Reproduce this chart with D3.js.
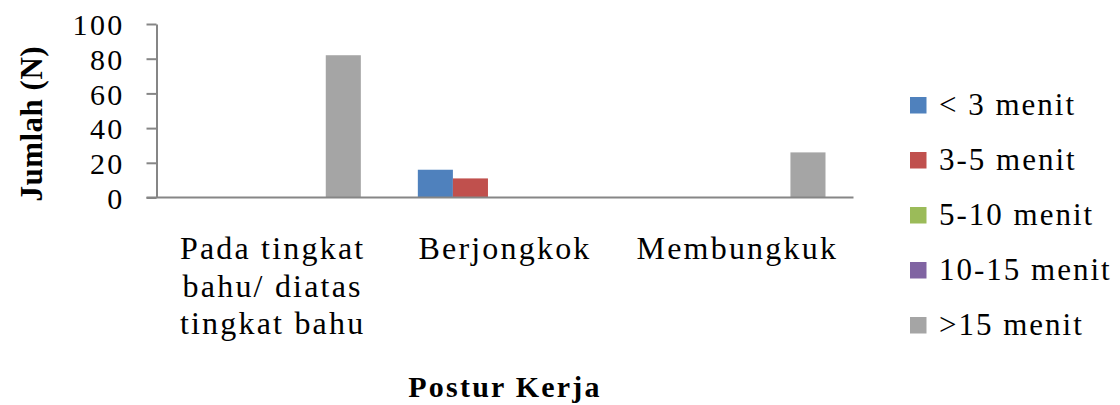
<!DOCTYPE html>
<html>
<head>
<meta charset="utf-8">
<script src="https://cdn.jsdelivr.net/npm/d3@7"></script>
<style>
    body { margin: 0; background: #fff; }
    svg text { font-family: "Liberation Serif", "Times New Roman", Times, serif; fill: #000; }
</style>
</head>
<body>
<script>
(function(){
    // chart data
    var categories = ["Pada tingkat bahu/ diatas tingkat bahu", "Berjongkok", "Membungkuk"];
    var categoryLines = [["Pada tingkat", "bahu/ diatas", "tingkat bahu"], ["Berjongkok"], ["Membungkuk"]];
    var seriesNames = ["< 3 menit", "3-5 menit", "5-10 menit", "10-15 menit", ">15 menit"];
    var seriesColors = ["#4F81BD", "#C0504D", "#9BBB59", "#8064A2", "#A5A5A5"];
    var lt3 = [0, 16, 0];
    var m3to5 = [0, 11, 0];
    var m5to10 = [0, 0, 0];
    var m10to15 = [0, 0, 0];
    var gt15 = [82, 0, 26];
    var yTicks = [0, 20, 40, 60, 80, 100];

    var seriesValues = [lt3, m3to5, m5to10, m10to15, gt15];

    var width = 1120, height = 405;
    var plot = {left: 156.5, right: 853.5, top: 24, bottom: 197.5};
    var axisColor = "#868686";

    var svg = d3.select("body")
        .append("svg")
        .attr("width", width)
        .attr("height", height);

    svg.append("rect")
        .attr("width", width)
        .attr("height", height)
        .attr("fill", "#fff");

    var x0 = d3.scaleBand()
        .domain(categories)
        .range([plot.left, plot.right]);

    var x1 = d3.scaleBand()
        .domain(seriesNames)
        .range([29, x0.bandwidth() - 28]);

    var y = d3.scaleLinear()
        .domain([0, 100])
        .range([plot.bottom, plot.top]);

    // bars
    var groups = svg.selectAll(".group")
        .data(categories)
        .enter()
        .append("g")
        .attr("class", "group")
        .attr("transform", function(d){ return "translate(" + x0(d) + ",0)"; });

    groups.selectAll("rect")
        .data(function(d, i){
            return seriesNames.map(function(s, j){
                return {series: s, color: seriesColors[j], value: seriesValues[j][i]};
            });
        })
        .enter()
        .append("rect")
        .attr("x", function(d){ return x1(d.series); })
        .attr("width", x1.bandwidth())
        .attr("y", function(d){ return y(d.value); })
        .attr("height", function(d){ return y(0) - y(d.value); })
        .attr("fill", function(d){ return d.color; });

    // y axis
    var yAxis = svg.append("g")
        .attr("transform", "translate(" + plot.left + ",0)")
        .call(d3.axisLeft(y).tickValues(yTicks).tickSize(10).tickSizeOuter(0).tickPadding(22));

    yAxis.select(".domain").attr("stroke", axisColor).attr("stroke-width", 2);
    yAxis.selectAll(".tick line").attr("stroke", axisColor).attr("stroke-width", 2);
    yAxis.selectAll(".tick text")
        .attr("font-size", 30)
        .attr("letter-spacing", 2.3)
        .attr("fill", "#000")
        .attr("dy", "0.36em");

    // x axis line
    svg.append("line")
        .attr("x1", plot.left - 10)
        .attr("x2", plot.right)
        .attr("y1", y(0))
        .attr("y2", y(0))
        .attr("stroke", axisColor)
        .attr("stroke-width", 2);

    // category labels
    var catLabels = svg.selectAll(".catLabel")
        .data(categories)
        .enter()
        .append("text")
        .attr("class", "catLabel")
        .attr("text-anchor", "middle")
        .attr("font-size", 32)
        .attr("letter-spacing", 2.2)
        .attr("y", 259);

    catLabels.each(function(d, i){
        var t = d3.select(this);
        categoryLines[i].forEach(function(line, k){
            t.append("tspan")
                .attr("x", x0(d) + x0.bandwidth() / 2)
                .attr("y", 259 + k * 37.5)
                .text(line);
        });
    });

    // axis titles
    svg.append("text")
        .attr("x", (plot.left + plot.right) / 2)
        .attr("y", 397)
        .attr("text-anchor", "middle")
        .attr("font-size", 30)
        .attr("font-weight", "bold")
        .attr("letter-spacing", 2.2)
        .text("Postur Kerja");

    svg.append("text")
        .attr("transform", "translate(42," + ((plot.top + plot.bottom) / 2 + 13) + ") rotate(-90)")
        .attr("text-anchor", "middle")
        .attr("font-size", 31)
        .attr("font-weight", "bold")
        .attr("letter-spacing", 0.5)
        .text("Jumlah (N)");

    // legend
    var legend = svg.selectAll(".legend")
        .data(seriesNames)
        .enter()
        .append("g")
        .attr("class", "legend")
        .attr("transform", function(d, i){ return "translate(910," + (97 + i * 55) + ")"; });

    legend.append("rect")
        .attr("width", 16.5)
        .attr("height", 16.5)
        .attr("fill", function(d, i){ return seriesColors[i]; });

    legend.append("text")
        .attr("x", 29)
        .attr("y", 18)
        .attr("font-size", 31)
        .attr("letter-spacing", 2)
        .text(function(d){ return d; });
})();
</script>
</body>
</html>
